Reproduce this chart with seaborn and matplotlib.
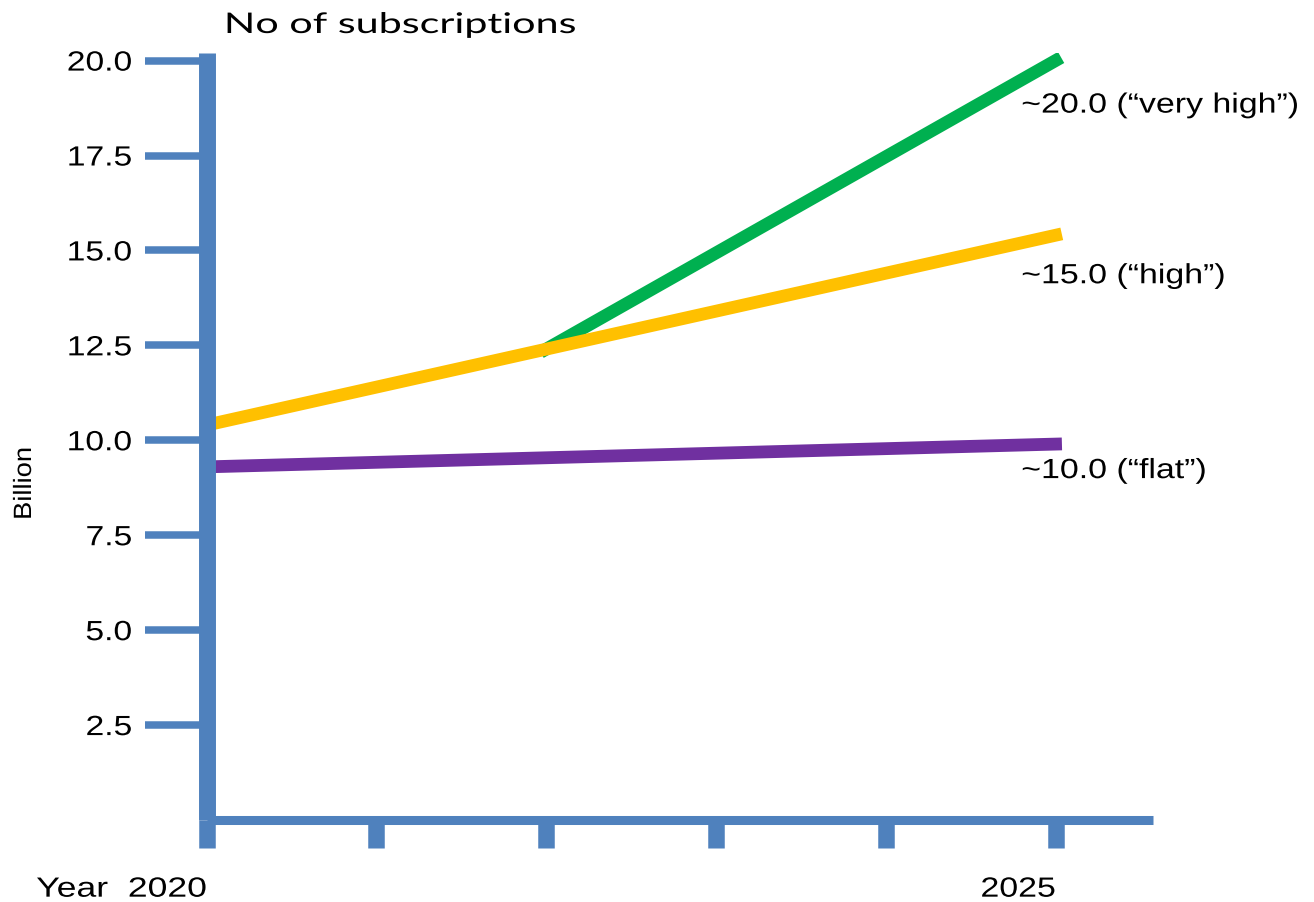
import matplotlib
matplotlib.use("Agg")
import matplotlib.pyplot as plt
import pandas as pd
import seaborn as sns
from matplotlib.patheffects import AbstractPathEffect
from matplotlib.transforms import Affine2D

# Subscriptions outlook, billions
years = [2020, 2025]
flat_values = [9.3, 9.9]
high_values = [10.4, 15.4]
branch_years = [2022, 2025]
very_high_values = [12.4, 20.0]

scenarios = ["flat", "very high", "high"]
end_labels = {
    "flat": "~10.0 (\u201cflat\u201d)",
    "very high": "~20.0 (\u201cvery high\u201d)",
    "high": "~15.0 (\u201chigh\u201d)",
}

y_ticks = [2.5, 5.0, 7.5, 10.0, 12.5, 15.0, 17.5, 20.0]
x_ticks = [2020, 2021, 2022, 2023, 2024, 2025]
x_tick_labels = ["Year  2020", "", "", "", "", "2025"]

palette = {"flat": "#7030A0", "very high": "#00B050", "high": "#FFC000"}
AXIS_BLUE = "#4F81BD"

# label placement relative to each line's last point (pixels)
label_offsets = {"flat": (-34, -34), "very high": (-34, -52), "high": (-34, -48)}


class StretchX(AbstractPathEffect):
    """Widen glyph outlines along the baseline, keeping one edge fixed."""

    def __init__(self, factor, anchor=0.0):
        super().__init__()
        self.factor = factor
        self.anchor = anchor

    def draw_path(self, renderer, gc, tpath, affine, rgbFace=None):
        ext = tpath.get_extents()
        x0 = ext.x0 + self.anchor * ext.width
        t = Affine2D().translate(-x0, 0).scale(self.factor, 1.0).translate(x0, 0) + affine
        renderer.draw_path(gc, tpath, t, rgbFace)


df = pd.concat([
    pd.DataFrame({"year": years, "billion": flat_values, "scenario": "flat"}),
    pd.DataFrame({"year": branch_years, "billion": very_high_values, "scenario": "very high"}),
    pd.DataFrame({"year": years, "billion": high_values, "scenario": "high"}),
], ignore_index=True)

sns.set_style("white")
plt.rcParams["font.family"] = ["Liberation Sans", "DejaVu Sans"]
plt.rcParams["text.color"] = "black"

W, H = 1314, 902
fig = plt.figure(figsize=(W / 100, H / 100), dpi=100)
ax = fig.add_axes([206.5 / W, 1 - 820 / H, (1153 - 206.5) / W, (820 - 53) / H])

sns.lineplot(data=df, x="year", y="billion", hue="scenario", hue_order=scenarios,
             palette=palette, linewidth=9.2, estimator=None, sort=False,
             legend=False, ax=ax)
for line in ax.get_lines():
    line.set_solid_capstyle("projecting")

ax.set_xlim(2020, 2025.574)
ax.set_ylim(0, 20.2)
ax.set_xlabel("")
ax.set_ylabel("")

for side in ("top", "right"):
    ax.spines[side].set_visible(False)
ax.spines["left"].set_color(AXIS_BLUE)
ax.spines["left"].set_linewidth(12.2)
ax.spines["left"].set_capstyle("butt")
ax.spines["bottom"].set_color(AXIS_BLUE)
ax.spines["bottom"].set_linewidth(6.5)
ax.spines["bottom"].set_capstyle("butt")

ax.set_xticks(x_ticks)
ax.set_xticklabels(x_tick_labels)
ax.set_yticks(y_ticks)
ax.set_yticklabels([f"{v:.1f}" for v in y_ticks])
ax.tick_params(axis="x", bottom=True, direction="out", length=19.8, width=11.9,
               color=AXIS_BLUE, labelcolor="black", labelsize=20, pad=21)
ax.tick_params(axis="y", left=True, direction="out", length=44.3, width=5.4,
               color=AXIS_BLUE, labelcolor="black", labelsize=20, pad=9.4)
for i, lbl in enumerate(ax.get_xticklabels()):
    lbl.set_horizontalalignment("right")
    lbl.set_path_effects([StretchX(1.28 if i == 0 else 1.22, anchor=1.0)])
for lbl in ax.get_yticklabels():
    lbl.set_path_effects([StretchX(1.21, anchor=1.0)])

# end-of-line value labels
for name, xs, vs in (("very high", branch_years, very_high_values),
                     ("high", years, high_values),
                     ("flat", years, flat_values)):
    ax.annotate(end_labels[name], xy=(xs[-1], vs[-1]), xytext=label_offsets[name],
                textcoords="offset pixels", ha="left", va="baseline", fontsize=20,
                color="black", path_effects=[StretchX(1.22, anchor=0.0)],
                annotation_clip=False)

fig.text(225 / W, 1 - 33 / H, "No of subscriptions", family=["Lato", "DejaVu Sans"],
         fontsize=20.5, ha="left", va="baseline", color="black",
         path_effects=[StretchX(1.45, anchor=0.0)])
fig.text(24 / W, 1 - 483.5 / H, "Billion", rotation=90, ha="center", va="center",
         fontsize=18, color="black", path_effects=[StretchX(1.095, anchor=0.5)])

fig.savefig("out.png", dpi=100)
